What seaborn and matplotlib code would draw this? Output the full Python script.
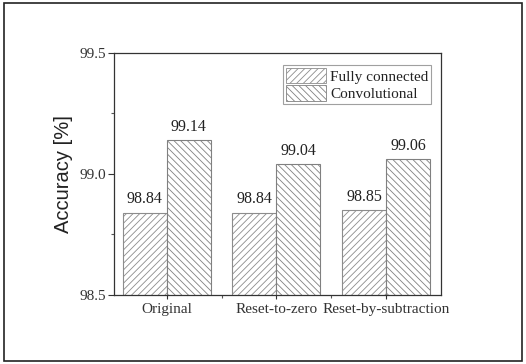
import matplotlib
matplotlib.use("Agg")
import matplotlib.pyplot as plt
import matplotlib.patches as mpatches
from matplotlib.ticker import MultipleLocator, FixedLocator, FormatStrFormatter
import seaborn as sns
import pandas as pd

methods = ["Original", "Reset-to-zero", "Reset-by-subtraction"]
fully_connected = [98.84, 98.84, 98.85]
convolutional = [99.14, 99.04, 99.06]
series_names = ["Fully connected", "Convolutional"]

df = pd.DataFrame({
    "method": methods * 2,
    "accuracy": fully_connected + convolutional,
    "network": [series_names[0]] * 3 + [series_names[1]] * 3,
})

sns.set_theme(style="white")
plt.rcParams["font.family"] = ["Liberation Serif", "DejaVu Serif"]
plt.rcParams["hatch.linewidth"] = 0.6

fig = plt.figure(figsize=(5.26, 3.64), dpi=100)
ax = fig.add_axes([0.2167, 0.1896, 0.6217, 0.6648])

sns.barplot(data=df, x="method", y="accuracy", hue="network",
            order=methods, hue_order=series_names, ax=ax,
            width=0.8, palette=["white", "white"],
            edgecolor="#8a8a8a", linewidth=0.8, legend=False)

hatches = ["/////", "\\\\\\\\\\"]
hatch_colors = ["#8c8c8c", "#808080"]
for cont, h, hc in zip(ax.containers, hatches, hatch_colors):
    for bar in cont:
        bar.set_hatch(h)
        bar.set_edgecolor(hc)
        bar.set_facecolor("white")
    ax.bar_label(cont, fmt="%.2f", padding=4, fontsize=11.5, color="#222222")

ax.set_ylim(98.5, 99.5)
ax.set_xlim(-0.48, 2.5)
ax.yaxis.set_major_locator(MultipleLocator(0.5))
ax.yaxis.set_minor_locator(MultipleLocator(0.25))
ax.yaxis.set_major_formatter(FormatStrFormatter("%.1f"))
ax.xaxis.set_minor_locator(FixedLocator([0.5, 1.5]))

ax.tick_params(axis="y", which="major", direction="out", length=4, width=0.8,
               labelsize=11, colors="#333333", left=True, pad=1.5)
ax.tick_params(axis="y", which="minor", direction="out", length=2, width=0.8,
               left=True, colors="#555555")
ax.tick_params(axis="x", which="major", direction="out", length=3, width=0.8,
               labelsize=11, colors="#333333", bottom=True, pad=3)
ax.tick_params(axis="x", which="minor", direction="out", length=2, width=0.8,
               bottom=True, colors="#555555")

for s in ax.spines.values():
    s.set_visible(True)
    s.set_color("#333333")
    s.set_linewidth(0.9)

ax.set_xlabel("")
ax.set_ylabel("Accuracy [%]", fontsize=14.5, family=["Liberation Sans", "DejaVu Sans"],
              color="#222222", labelpad=5)

handles = [mpatches.Patch(facecolor="white", edgecolor=c, hatch=h, linewidth=0.6)
           for h, c in zip(hatches, hatch_colors)]
leg = ax.legend(handles, series_names, loc="upper right", fontsize=11,
                frameon=True, fancybox=False, edgecolor="#888888",
                bbox_to_anchor=(0.98, 0.965), borderpad=0.2, labelspacing=0.1,
                handlelength=2.6, handleheight=1.2, handletextpad=0.3,
                borderaxespad=0.2)
leg.get_frame().set_linewidth(0.8)
for t in leg.get_texts():
    t.set_color("#222222")

border = mpatches.Rectangle((0.008, 0.008), 0.984, 0.984, transform=fig.transFigure,
                            fill=False, edgecolor="#222222", linewidth=1.2)
fig.patches.append(border)

fig.savefig("out.png", dpi=100, facecolor="white")
